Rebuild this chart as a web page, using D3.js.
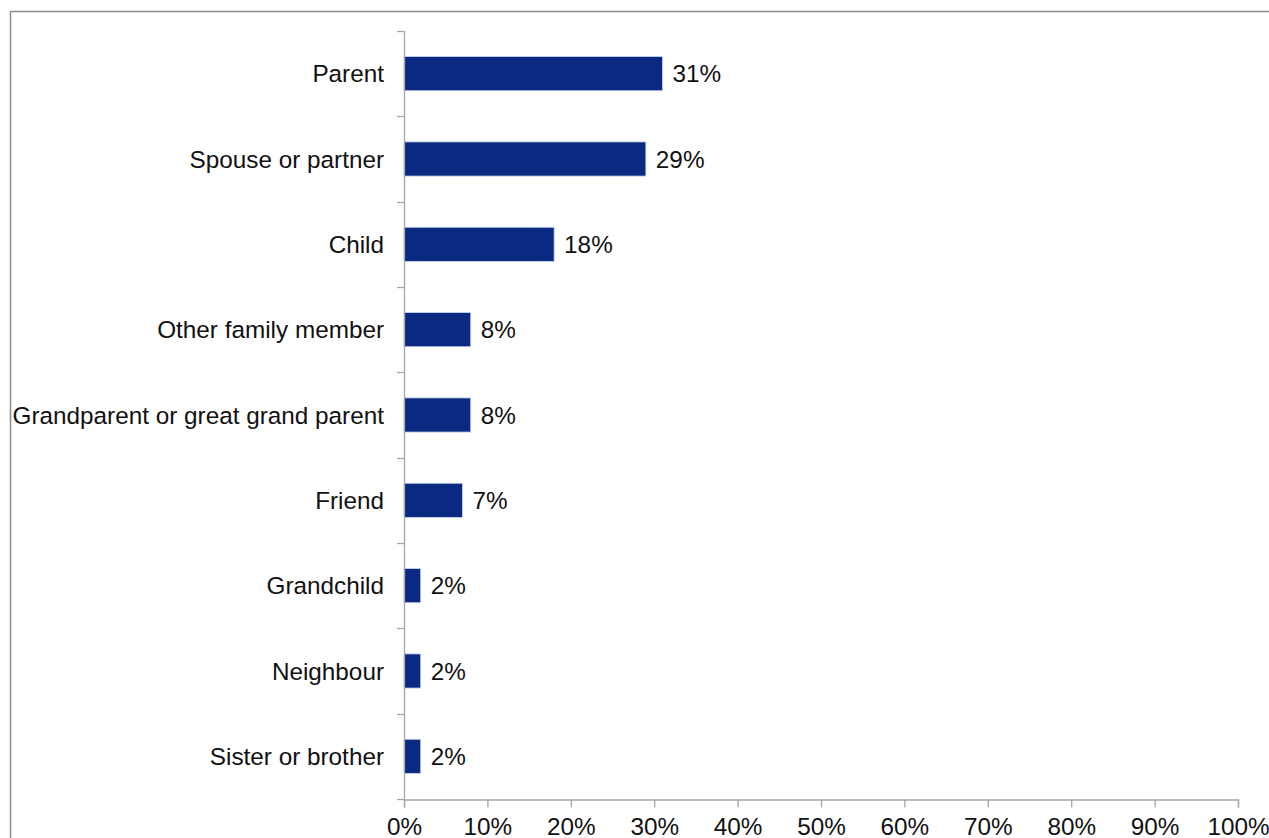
<!DOCTYPE html>
<html>
<head>
<meta charset="utf-8">
<script src="https://cdn.jsdelivr.net/npm/d3@7"></script>
<style>
  html, body { margin: 0; padding: 0; background: #fff; }
  svg { display: block; }
  text { font-family: "Liberation Sans", Arial, sans-serif; fill: #111; }
</style>
</head>
<body>
<svg id="chart" width="1269" height="838"></svg>
<script>
// Relationship categories, top to bottom
const categories = [
  "Parent",
  "Spouse or partner",
  "Child",
  "Other family member",
  "Grandparent or great grand parent",
  "Friend",
  "Grandchild",
  "Neighbour",
  "Sister or brother"
];
// Share of respondents (%)
const values = [31, 29, 18, 8, 8, 7, 2, 2, 2];
// x-axis tick values (%)
const xTicks = [0, 10, 20, 30, 40, 50, 60, 70, 80, 90, 100];

const svg = d3.select("#chart");

// Outer chart frame
svg.append("rect")
  .attr("x", 10.5).attr("y", 11.5)
  .attr("width", 1300).attr("height", 900)
  .attr("fill", "#fff")
  .attr("stroke", "#8c8c8c")
  .attr("stroke-width", 1.5);

const plot = { left: 404, right: 1238, top: 31, bottom: 799 };

const x = d3.scaleLinear().domain([0, 100]).range([plot.left, plot.right]);
const y = d3.scaleBand().domain(categories).range([plot.top, plot.bottom])
  .paddingInner(0.6).paddingOuter(0.3);

const axisColor = "#a6a6a6";
const fontSize = "24.3px";

// Bars
svg.append("g").selectAll("rect")
  .data(categories)
  .join("rect")
  .attr("x", x(0))
  .attr("y", d => y(d))
  .attr("width", (d, i) => x(values[i]) - x(0))
  .attr("height", y.bandwidth())
  .attr("fill", "#0a2a82")
  .attr("stroke", "#c9d3ea")
  .attr("stroke-width", 0.8);

// Value labels
svg.append("g").selectAll("text")
  .data(categories)
  .join("text")
  .attr("x", (d, i) => x(values[i]) + 10)
  .attr("y", d => y(d) + y.bandwidth() / 2)
  .attr("dy", "0.36em")
  .style("font-size", fontSize)
  .text((d, i) => values[i] + "%");

// Category axis (boundary ticks between bands)
const bandStep = (plot.bottom - plot.top) / categories.length;
const boundaries = d3.range(categories.length + 1).map(i => plot.top + i * bandStep);
const yAxis = svg.append("g");
yAxis.append("line")
  .attr("x1", plot.left + 0.5).attr("x2", plot.left + 0.5)
  .attr("y1", plot.top).attr("y2", plot.bottom)
  .attr("stroke", axisColor).attr("stroke-width", 1.3);
yAxis.selectAll("line.tick")
  .data(boundaries)
  .join("line")
  .attr("class", "tick")
  .attr("x1", plot.left - 7).attr("x2", plot.left)
  .attr("y1", d => Math.round(d) + 0.5).attr("y2", d => Math.round(d) + 0.5)
  .attr("stroke", axisColor).attr("stroke-width", 1.3);
yAxis.selectAll("text")
  .data(categories)
  .join("text")
  .attr("x", 384)
  .attr("y", d => y(d) + y.bandwidth() / 2)
  .attr("dy", "0.36em")
  .attr("text-anchor", "end")
  .style("font-size", fontSize)
  .text(d => d);

// Value axis
const xAxis = svg.append("g")
  .attr("transform", `translate(0,${plot.bottom + 0.5})`)
  .call(d3.axisBottom(x).tickValues(xTicks).tickSize(8).tickPadding(10)
    .tickFormat(d => d + "%"));
xAxis.select(".domain").attr("stroke", axisColor).attr("stroke-width", 1.3);
xAxis.selectAll(".tick line").attr("stroke", axisColor).attr("stroke-width", 1.3);
xAxis.selectAll(".tick text")
  .style("font-size", fontSize)
  .style("font-family", "'Liberation Sans', Arial, sans-serif")
  .attr("fill", "#111");
</script>
</body>
</html>
